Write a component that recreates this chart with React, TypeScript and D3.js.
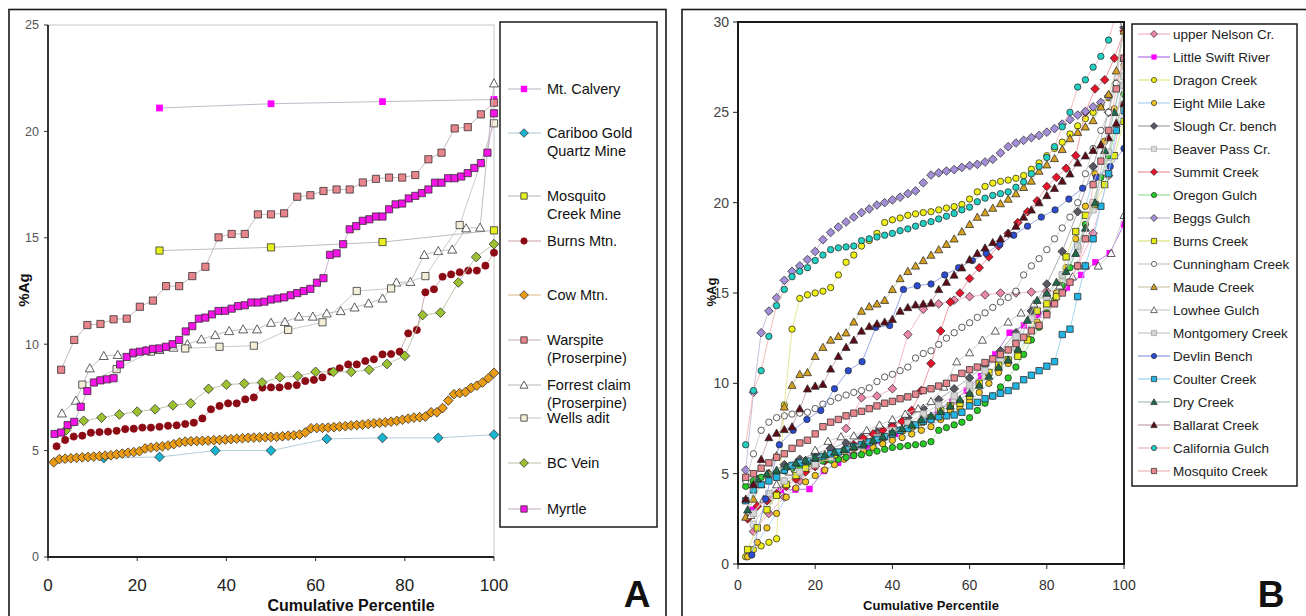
import * as d3 from "d3";

// ---------- Panel A: %Ag per mine, sorted ascending (x = cumulative percentile) ----------
const mtCalvery = [21.1, 21.3, 21.4, 21.5];
const caribooGold = [4.65, 4.7, 5.0, 5.0, 5.55, 5.6, 5.6, 5.75];
const mosquitoCreekMine = [14.4, 14.55, 14.8, 15.35];
const burnsMtn = [
  5.2, 5.5, 5.66, 5.7, 5.84, 5.87, 5.89, 5.93, 6.01, 6.03,
  6.08, 6.08, 6.12, 6.17, 6.19, 6.25, 6.31, 6.51, 6.94, 7.1,
  7.22, 7.22, 7.41, 7.5, 7.96, 7.97, 7.97, 8.04, 8.08, 8.27,
  8.32, 8.44, 8.71, 8.87, 9.05, 9.05, 9.21, 9.29, 9.52, 9.54,
  9.65, 10.51, 10.67, 12.44, 12.58, 13.17, 13.28, 13.38, 13.46, 13.46,
  13.69, 14.3,
];
const cowMtn = [
  4.45, 4.6, 4.62, 4.64, 4.66, 4.68, 4.7, 4.72, 4.74, 4.76,
  4.78, 4.82, 4.86, 4.9, 4.93, 4.97, 5.1, 5.14, 5.17, 5.2,
  5.24, 5.3, 5.38, 5.42, 5.44, 5.45, 5.46, 5.47, 5.49, 5.5,
  5.52, 5.54, 5.56, 5.58, 5.6, 5.61, 5.62, 5.63, 5.64, 5.65,
  5.67, 5.7, 5.72, 5.75, 5.85, 6.05, 6.06, 6.07, 6.08, 6.1,
  6.13, 6.15, 6.18, 6.2, 6.22, 6.25, 6.28, 6.3, 6.33, 6.36,
  6.4, 6.45, 6.5, 6.55, 6.57, 6.6, 6.8, 6.8, 7.0, 7.35,
  7.65, 7.7, 7.75, 7.95, 8.05, 8.2, 8.4, 8.65,
];
const warspite = [
  8.8, 10.2, 10.9, 10.95, 11.17, 11.2, 11.76, 12.05, 12.73, 12.73,
  13.2, 13.64, 15.02, 15.18, 15.18, 16.1, 16.1, 16.15, 16.93, 17.0,
  17.2, 17.27, 17.27, 17.6, 17.77, 17.83, 17.83, 17.95, 18.69, 19.0,
  20.14, 20.2, 20.8, 21.35,
];
const forrestClaim = [
  6.75, 7.35, 8.87, 9.45, 9.5, 9.57, 9.7, 9.73, 9.84, 10.0,
  10.23, 10.43, 10.62, 10.7, 10.7, 11.01, 11.05, 11.3, 11.3, 11.45,
  11.56, 11.73, 11.92, 12.15, 12.9, 12.93, 14.2, 14.38, 14.45, 15.45,
  15.48, 22.26,
];
const wellsAdit = [8.1, 8.83, 9.65, 9.8, 9.88, 9.93, 10.67, 11.03, 12.5, 12.62, 13.2, 15.6, 20.38];
const bcVein = [
  5.95, 6.4, 6.55, 6.7, 6.83, 6.94, 7.13, 7.22, 7.9, 8.1,
  8.15, 8.2, 8.45, 8.5, 8.7, 8.7, 8.7, 8.8, 9.07, 9.45,
  11.37, 11.48, 12.9, 14.1, 14.7,
];
const myrtle = [
  5.78, 5.85, 6.2, 6.35, 7.06, 7.8, 8.2, 8.3, 8.35, 8.4,
  9.05, 9.4, 9.6, 9.65, 9.7, 9.78, 9.8, 9.88, 10.0, 10.2,
  10.6, 10.85, 11.2, 11.25, 11.4, 11.56, 11.57, 11.67, 11.79, 11.83,
  11.96, 11.96, 12.0, 12.1, 12.15, 12.2, 12.3, 12.4, 12.5, 12.6,
  12.89, 13.1, 14.2, 14.27, 14.7, 15.4, 15.55, 15.8, 15.87, 16.0,
  16.0, 16.34, 16.57, 16.61, 16.85, 16.97, 17.1, 17.27, 17.59, 17.59,
  17.8, 17.8, 17.88, 18.04, 18.28, 18.51, 19.0, 20.85,
];

// ---------- Panel B: %Ag per placer creek ----------
const upperNelson = [
  1.8, 2.8, 3.7, 4.6, 5.4, 6.4, 7.5, 9.2, 9.3, 9.7,
  12.7, 14.1, 14.4, 14.6, 14.8, 14.9, 15.0, 15.0, 15.05, 15.1,
  15.1, 16.5, 18.3, 21.5, 25.5,
];
const littleSwift = [
  3.0, 3.6, 4.1, 4.12, 4.15, 5.15, 5.6, 6.0, 6.4, 6.8,
  7.2, 7.6, 8.0, 8.5, 9.0, 9.6, 10.4, 11.6, 12.8, 13.2,
  13.8, 14.4, 15.3, 16.0, 16.7, 17.2, 18.8,
];
const dragonCreek = [
  0.4, 0.8, 1.0, 1.2, 1.4, 8.8, 13.0, 14.7, 14.9, 15.0,
  15.1, 15.3, 16.0, 16.7, 17.1, 17.6, 17.9, 18.3, 18.9, 19.05,
  19.15, 19.3, 19.38, 19.45, 19.5, 19.6, 19.7, 19.78, 19.9, 20.2,
  20.6, 20.9, 21.08, 21.18, 21.25, 21.35, 21.5, 21.85, 22.2, 22.6,
  23.0, 23.35, 23.8, 24.25, 24.65, 25.0, 25.4, 25.8, 26.6, 27.6,
];
const eightMileLake = [
  0.4, 1.2, 2.0, 2.8, 3.7, 4.2, 4.55, 4.9, 5.2, 5.5,
  5.8, 6.05, 6.25, 6.45, 6.65, 6.85, 7.0, 7.2, 7.4, 7.6,
  8.0, 8.45, 8.6, 9.0, 9.5, 10.0, 10.6, 11.1, 11.8, 12.5,
  13.4, 14.2, 15.0, 16.4, 18.0, 19.8, 21.6, 23.4, 25.2, 27.0,
];
const sloughCr = [
  4.4, 5.0, 5.5, 5.8, 6.1, 6.4, 6.7, 7.0, 7.3, 7.7,
  8.1, 8.6, 9.1, 9.7, 10.3, 11.0, 11.8, 12.8, 14.0, 15.5,
  17.3, 19.5, 22.0, 25.0, 29.7,
];
const beaverPass = [
  2.2, 3.5, 4.4, 5.0, 5.4, 5.8, 6.2, 6.5, 6.9, 7.3,
  7.7, 8.1, 8.6, 9.1, 9.7, 10.4, 11.2, 12.0, 13.0, 14.2,
  15.6, 17.4, 19.6, 22.5, 27.0,
];
const summitCreek = [
  2.5, 3.2, 3.5, 3.9, 4.3, 4.7, 5.1, 5.4, 5.7, 6.0,
  6.3, 6.6, 6.95, 7.2, 7.4, 7.6, 7.9, 8.5, 9.6, 11.1,
  12.9, 14.5, 15.0, 15.8, 16.4, 17.0, 17.6, 18.3, 18.9, 19.5,
  20.1, 20.9, 21.4, 21.9, 22.6, 25.0, 26.3, 26.8, 28.0, 29.5,
];
const oregonGulch = [
  4.3, 4.6, 4.8, 4.95, 5.05, 5.15, 5.3, 5.4, 5.5, 5.6,
  5.7, 5.75, 5.8, 5.9, 6.0, 6.05, 6.15, 6.25, 6.35, 6.45,
  6.5, 6.55, 6.6, 6.65, 6.77, 7.4, 7.55, 7.7, 7.85, 8.1,
  8.5, 8.9, 9.3, 9.8, 10.3, 10.9, 11.6, 12.4, 13.1, 13.9,
  14.6, 15.4, 16.4, 17.6, 18.8, 20.0, 21.4, 22.6, 24.0, 26.0,
];
const beggsGulch = [
  5.2, 9.5, 12.8, 14.0, 14.74, 15.7, 16.2, 16.5, 16.85, 17.3,
  17.95, 18.35, 18.65, 18.93, 19.2, 19.45, 19.65, 19.87, 20.0, 20.15,
  20.3, 20.5, 20.65, 21.1, 21.53, 21.65, 21.75, 21.83, 21.95, 22.05,
  22.12, 22.25, 22.4, 22.75, 23.1, 23.3, 23.45, 23.6, 23.72, 23.9,
  24.1, 24.35, 24.6, 24.85, 25.05, 25.3, 25.55, 25.9, 26.6, 28.0,
];
const burnsCreek = [
  0.8, 2.0, 3.0, 3.8, 4.4, 4.9, 5.3, 5.6, 5.85, 6.05,
  6.25, 6.45, 6.6, 6.8, 7.0, 7.2, 7.4, 7.6, 7.85, 8.1,
  8.5, 8.75, 8.9, 9.3, 10.0, 10.6, 11.0, 11.3, 11.5, 12.4,
  14.0, 14.4, 14.8, 17.0, 18.4, 19.3, 19.9, 21.0, 22.6, 24.5,
];
const cunninghamCreek = [
  4.6, 6.1, 7.4, 7.85, 8.1, 8.2, 8.3, 8.35, 8.4, 8.6,
  8.85, 9.0, 9.2, 9.35, 9.5, 9.6, 9.75, 10.1, 10.35, 10.5,
  10.7, 10.9, 11.4, 11.65, 11.8, 12.15, 12.5, 12.8, 13.1, 13.35,
  13.65, 13.9, 14.2, 14.5, 14.75, 15.1, 16.0, 16.5, 16.9, 17.4,
  18.0, 18.6, 19.2, 20.0, 21.6, 23.0, 24.0, 25.0, 26.6, 29.9,
];
const maudeCreek = [
  2.6, 3.6, 4.4, 5.0, 6.0, 8.7, 9.9, 10.5, 10.6, 11.5,
  12.0, 12.4, 12.6, 12.8, 13.4, 14.0, 14.25, 14.4, 14.6, 15.2,
  15.8, 16.2, 16.5, 16.8, 17.1, 17.4, 17.7, 18.0, 18.4, 18.8,
  19.2, 19.45, 19.7, 19.95, 20.2, 20.5, 20.85, 21.2, 21.75, 22.1,
  22.45, 22.95, 23.55, 23.9, 24.2, 24.55, 25.3, 26.0, 27.3, 29.5,
];
const lowheeGulch = [
  2.7, 3.6, 4.4, 5.1, 5.7, 6.3, 6.8, 7.05, 7.1, 7.4,
  7.7, 8.0, 8.3, 8.6, 9.0, 9.8, 11.2, 11.7, 12.4, 12.9,
  13.4, 13.9, 14.4, 14.9, 15.4, 15.9, 16.5, 16.5, 17.2, 19.3,
];
const montgomeryCreek = [
  2.8, 3.9, 4.6, 5.1, 5.5, 5.9, 6.3, 6.7, 7.0, 7.4,
  7.8, 8.3, 8.8, 9.3, 9.9, 10.7, 11.6, 12.6, 13.6, 14.8,
  16.0, 17.6, 20.0, 22.8, 26.5,
];
const devlinBench = [
  0.5, 3.6, 6.6, 7.4, 8.0, 8.5, 9.7, 10.7, 11.2, 13.1,
  13.2, 15.2, 15.4, 15.5, 16.0, 16.4, 16.8, 17.2, 17.7, 18.2,
  18.7, 19.2, 19.6, 20.2, 20.8, 21.4, 22.0, 23.0,
];
const coulterCreek = [
  3.5, 4.1, 4.4, 4.6, 4.8, 5.2, 5.45, 5.6, 5.7, 5.85,
  5.95, 6.1, 6.2, 6.35, 6.5, 6.6, 6.75, 6.9, 7.05, 7.2,
  7.4, 7.5, 7.7, 7.9, 8.0, 8.15, 8.2, 8.25, 8.4, 8.75,
  8.95, 9.15, 9.3, 9.45, 9.6, 9.85, 10.2, 10.45, 10.7, 10.95,
  11.2, 12.7, 13.0, 14.8, 16.5, 18.0, 19.8, 21.6, 24.0, 25.1,
];
const dryCreek = [
  3.0, 4.7, 5.0, 5.2, 5.4, 5.6, 5.75, 5.9, 6.05, 6.2,
  6.35, 6.5, 6.65, 6.85, 7.05, 7.3, 7.5, 7.7, 8.0, 8.2,
  8.45, 8.75, 9.1, 9.45, 9.9, 10.4, 10.9, 11.3, 11.9, 13.5,
  14.6, 15.0, 15.6, 16.2, 17.2, 18.6, 20.0, 22.9, 25.0, 28.0,
];
const ballaratCreek = [
  3.6, 4.4, 5.8, 7.0, 7.25, 7.45, 7.6, 8.6, 9.7, 9.85,
  9.95, 10.8, 11.5, 12.0, 12.4, 12.9, 13.15, 13.3, 13.4, 13.55,
  14.0, 14.2, 14.35, 14.4, 14.45, 15.2, 15.6, 16.0, 16.4, 16.85,
  17.2, 17.5, 17.8, 18.0, 18.3, 18.7, 19.2, 19.6, 20.0, 20.4,
  20.8, 21.2, 21.6, 22.2, 22.6, 22.9, 23.2, 23.6, 24.4, 25.5,
];
const californiaGulch = [
  6.6, 9.6, 10.7, 12.6, 14.3, 15.2, 15.9, 16.2, 16.4, 16.8,
  17.1, 17.4, 17.5, 17.55, 17.6, 17.9, 18.0, 18.1, 18.2, 18.3,
  18.45, 18.55, 18.7, 18.85, 18.95, 19.1, 19.25, 19.4, 19.6, 19.75,
  20.05, 20.25, 20.4, 20.5, 20.6, 20.85, 21.15, 21.6, 22.0, 22.5,
  23.1, 24.2, 25.0, 26.4, 26.8, 27.5, 28.1, 29.0, 30.5, 32.0,
];
const mosquitoCreek = [
  4.8, 5.0, 5.3, 5.6, 5.9, 6.1, 6.4, 6.7, 6.85, 7.2,
  7.6, 7.85, 8.0, 8.2, 8.35, 8.45, 8.6, 8.75, 8.9, 9.0,
  9.15, 9.25, 9.4, 9.6, 9.7, 9.85, 10.0, 10.3, 10.55, 10.75,
  10.9, 11.15, 11.35, 11.6, 11.85, 12.2, 12.55, 12.9, 13.2, 13.8,
  14.4, 15.0, 15.6, 16.5, 18.0, 21.0, 22.3, 24.0, 26.3, 28.0,
];

const xTicks = [0, 20, 40, 60, 80, 100];
const yTicksA = [0, 5, 10, 15, 20, 25];
const yTicksB = [0, 5, 10, 15, 20, 25, 30];

type Shape = "square" | "diamond" | "triangle" | "circle";
type Series = {
  label: string[];
  values: number[];
  shape: Shape;
  fill: string;
  line: string;
  stroke?: string;
};

const seriesA: Series[] = [
  { label: ["Mt. Calvery"], values: mtCalvery, shape: "square", fill: "#ff00ff", line: "#b4b4c4", stroke: "none" },
  { label: ["Cariboo Gold", "Quartz Mine"], values: caribooGold, shape: "diamond", fill: "#19b4d2", line: "#a8c8d4" },
  { label: ["Mosquito", "Creek Mine"], values: mosquitoCreekMine, shape: "square", fill: "#e6f01e", line: "#b4b4b4" },
  { label: ["Burns Mtn."], values: burnsMtn, shape: "circle", fill: "#8c0a14", line: "#c8a0a0", stroke: "#8c0a14" },
  { label: ["Cow Mtn."], values: cowMtn, shape: "diamond", fill: "#eb9b14", line: "#d8b888" },
  { label: ["Warspite", "(Proserpine)"], values: warspite, shape: "square", fill: "#e8848c", line: "#c0b0b4" },
  { label: ["Forrest claim", "(Proserpine)"], values: forrestClaim, shape: "triangle", fill: "#ffffff", line: "#b8b8b8" },
  { label: ["Wells adit"], values: wellsAdit, shape: "square", fill: "#f3eed8", line: "#c4c4c4" },
  { label: ["BC Vein"], values: bcVein, shape: "diamond", fill: "#9cc232", line: "#b8c0a0" },
  { label: ["Myrtle"], values: myrtle, shape: "square", fill: "#f514e6", line: "#c8a8c8" },
];

const seriesB: Series[] = [
  { label: ["upper Nelson Cr."], values: upperNelson, shape: "diamond", fill: "#ea86aa", line: "#f2b0c8" },
  { label: ["Little Swift River"], values: littleSwift, shape: "square", fill: "#ff00ff", line: "#b070e8", stroke: "none" },
  { label: ["Dragon Creek"], values: dragonCreek, shape: "circle", fill: "#f0f014", line: "#e4e48c" },
  { label: ["Eight Mile Lake"], values: eightMileLake, shape: "circle", fill: "#f2c41e", line: "#a8d4f0" },
  { label: ["Slough Cr. bench"], values: sloughCr, shape: "diamond", fill: "#585864", line: "#a0a0ac" },
  { label: ["Beaver Pass Cr."], values: beaverPass, shape: "square", fill: "#dcdcdc", line: "#c4c4c4", stroke: "#a8a8a8" },
  { label: ["Summit Creek"], values: summitCreek, shape: "diamond", fill: "#e6142a", line: "#f0909c" },
  { label: ["Oregon Gulch"], values: oregonGulch, shape: "circle", fill: "#24cc24", line: "#98e098" },
  { label: ["Beggs Gulch"], values: beggsGulch, shape: "diamond", fill: "#a48ed8", line: "#c4b8d4" },
  { label: ["Burns Creek"], values: burnsCreek, shape: "square", fill: "#e8ea14", line: "#dce27c" },
  { label: ["Cunningham Creek"], values: cunninghamCreek, shape: "circle", fill: "#ffffff", line: "#c8c8c8" },
  { label: ["Maude Creek"], values: maudeCreek, shape: "triangle", fill: "#d6a020", line: "#ccc8a8" },
  { label: ["Lowhee Gulch"], values: lowheeGulch, shape: "triangle", fill: "#ffffff", line: "#c8c8c8" },
  { label: ["Montgomery Creek"], values: montgomeryCreek, shape: "square", fill: "#d4d4d4", line: "#c8c8c8", stroke: "#9c9c9c" },
  { label: ["Devlin Bench"], values: devlinBench, shape: "circle", fill: "#2c4cd2", line: "#8c9ce4" },
  { label: ["Coulter Creek"], values: coulterCreek, shape: "square", fill: "#22b4e2", line: "#98d4f0" },
  { label: ["Dry Creek"], values: dryCreek, shape: "triangle", fill: "#1e6a4a", line: "#a4c4b4" },
  { label: ["Ballarat Creek"], values: ballaratCreek, shape: "triangle", fill: "#5c0a16", line: "#c4a4a8" },
  { label: ["California Gulch"], values: californiaGulch, shape: "circle", fill: "#20d0c2", line: "#f0b4b4" },
  { label: ["Mosquito Creek"], values: mosquitoCreek, shape: "square", fill: "#e8868e", line: "#f0b4ba" },
];

// legend text rows for panel A (first line of each entry)
const legendRowsA = [89, 133, 196, 241, 295, 340, 385, 418, 463, 509];

const FONT = "'Liberation Sans', Arial, Helvetica, sans-serif";
const pct = (i: number, n: number) => ((i + 1) / n) * 100;

function markerPath(shape: Shape, s: number) {
  switch (shape) {
    case "square":
      return `M${-s},${-s}H${s}V${s}H${-s}Z`;
    case "diamond": {
      const d = s * 1.35;
      return `M0,${-d}L${d},0L0,${d}L${-d},0Z`;
    }
    case "triangle": {
      const h = s * 1.25;
      return `M0,${-h}L${h},${h * 0.8}L${-h},${h * 0.8}Z`;
    }
    default:
      return `M${s},0A${s},${s} 0 1,1 ${-s},0A${s},${s} 0 1,1 ${s},0Z`;
  }
}

function SeriesMarks({ s, x, y, size, clip }: { s: Series; x: d3.ScaleLinear<number, number>; y: d3.ScaleLinear<number, number>; size: number; clip?: string }) {
  const n = s.values.length;
  const line = d3
    .line<number>()
    .x((_, i) => x(pct(i, n)))
    .y((v) => y(v));
  return (
    <g clipPath={clip}>
      <path d={line(s.values) ?? ""} fill="none" stroke={s.line} strokeWidth={0.9} />
      {s.values.map((v, i) => (
        <path
          key={i}
          d={markerPath(s.shape, size)}
          transform={`translate(${x(pct(i, n))},${y(v)})`}
          fill={s.fill}
          stroke={s.stroke ?? "#2a2a2a"}
          strokeWidth={0.75}
        />
      ))}
    </g>
  );
}

export default function App() {
  // panel A
  const xA = d3.scaleLinear().domain([0, 100]).range([48, 494]);
  const yA = d3.scaleLinear().domain([0, 25]).range([557, 25]);
  // panel B
  const xB = d3.scaleLinear().domain([0, 100]).range([738, 1124]);
  const yB = d3.scaleLinear().domain([0, 30]).range([564, 22]);

  return (
    <svg
      width={1306}
      height={616}
      style={{ position: "absolute", left: 0, top: 0, background: "#fff" }}
      fontFamily={FONT}
    >
      <defs>
        <clipPath id="clipB">
          <rect x={738} y={22} width={386} height={542} />
        </clipPath>
      </defs>
      <rect x={0} y={0} width={1306} height={616} fill="#fff" />

      {/* ---------------- Panel A ---------------- */}
      <rect x={9} y={9.5} width={657} height={620} fill="#fff" stroke="#1a1a1a" strokeWidth={1.6} />
      <rect x={48} y={25} width={446} height={532} fill="#fff" stroke="#c6c6c6" strokeWidth={1} />
      {yTicksA.map((t) => (
        <g key={t}>
          <line x1={44} x2={48} y1={yA(t)} y2={yA(t)} stroke="#333" strokeWidth={1} />
          <text x={39} y={yA(t)} dy="0.35em" textAnchor="end" fontSize={12.5} fill="#555">
            {t}
          </text>
        </g>
      ))}
      {xTicks.map((t) => (
        <g key={t}>
          <line x1={xA(t)} x2={xA(t)} y1={557} y2={561} stroke="#333" strokeWidth={1} />
          <text x={xA(t)} y={591} textAnchor="middle" fontSize={17} fill="#222">
            {t}
          </text>
        </g>
      ))}
      <line x1={48} x2={48} y1={25} y2={558} stroke="#222" strokeWidth={1.8} />
      <line x1={47} x2={494} y1={557} y2={557} stroke="#222" strokeWidth={1.8} />
      {seriesA.map((s, k) => (
        <SeriesMarks key={k} s={s} x={xA} y={yA} size={k === 0 ? 3.4 : 3.6} />
      ))}
      <text x={351} y={611} textAnchor="middle" fontSize={16} fontWeight="bold" fill="#111">
        Cumulative Percentile
      </text>
      <text transform="translate(29,290) rotate(-90)" textAnchor="middle" fontSize={15} fontWeight="bold" fill="#111">
        %Ag
      </text>
      <text x={637} y={607} textAnchor="middle" fontSize={37} fontWeight="bold" fill="#111">
        A
      </text>

      {/* legend A */}
      <rect x={500} y={22} width={157} height={505} fill="#fff" stroke="#1a1a1a" strokeWidth={1.5} />
      {seriesA.map((s, k) => {
        const ly = legendRowsA[k];
        return (
          <g key={k}>
            <line x1={508} x2={541} y1={ly} y2={ly} stroke={s.line} strokeWidth={1.2} />
            <path
              d={markerPath(s.shape, 3.2)}
              transform={`translate(524,${ly})`}
              fill={s.fill}
              stroke={s.stroke ?? "#2a2a2a"}
              strokeWidth={0.75}
            />
            <text x={547} y={ly} fontSize={14.5} fill="#111">
              {s.label.map((l, j) => (
                <tspan key={j} x={547} dy={j === 0 ? "0.35em" : 18}>
                  {l}
                </tspan>
              ))}
            </text>
          </g>
        );
      })}

      {/* ---------------- Panel B ---------------- */}
      <rect x={682} y={9.5} width={640} height={620} fill="#fff" stroke="#1a1a1a" strokeWidth={1.6} />
      {yTicksB.map((t) => (
        <g key={t}>
          <line x1={733} x2={738} y1={yB(t)} y2={yB(t)} stroke="#222" strokeWidth={1} />
          <text x={729} y={yB(t)} dy="0.35em" textAnchor="end" fontSize={14} fill="#444">
            {t}
          </text>
        </g>
      ))}
      {xTicks.map((t) => (
        <g key={t}>
          <line x1={xB(t)} x2={xB(t)} y1={564} y2={569} stroke="#222" strokeWidth={1} />
          <text x={xB(t)} y={590} textAnchor="middle" fontSize={14} fill="#333">
            {t}
          </text>
        </g>
      ))}
      {seriesB.map((s, k) => (
        <SeriesMarks key={k} s={s} x={xB} y={yB} size={3.2} clip="url(#clipB)" />
      ))}
      <rect x={738} y={22} width={386} height={542} fill="none" stroke="#1a1a1a" strokeWidth={2} />
      <text x={931} y={610} textAnchor="middle" fontSize={13} fontWeight="bold" fill="#111">
        Cumulative Percentile
      </text>
      <text transform="translate(716,292) rotate(-90)" textAnchor="middle" fontSize={13} fontWeight="bold" fill="#111">
        %Ag
      </text>
      <text x={1271} y={607} textAnchor="middle" fontSize={37} fontWeight="bold" fill="#111">
        B
      </text>

      {/* legend B */}
      <rect x={1132} y={24} width={165} height={462} fill="#fff" stroke="#1a1a1a" strokeWidth={1.5} />
      {seriesB.map((s, k) => {
        const ly = 34 + k * 23;
        return (
          <g key={k}>
            <line x1={1138} x2={1170} y1={ly} y2={ly} stroke={s.line} strokeWidth={1.2} />
            <path
              d={markerPath(s.shape, 2.6)}
              transform={`translate(1154,${ly})`}
              fill={s.fill}
              stroke={s.stroke ?? "#2a2a2a"}
              strokeWidth={0.7}
            />
            <text x={1173} y={ly} dy="0.35em" fontSize={13.5} fill="#222">
              {s.label[0]}
            </text>
          </g>
        );
      })}
    </svg>
  );
}
